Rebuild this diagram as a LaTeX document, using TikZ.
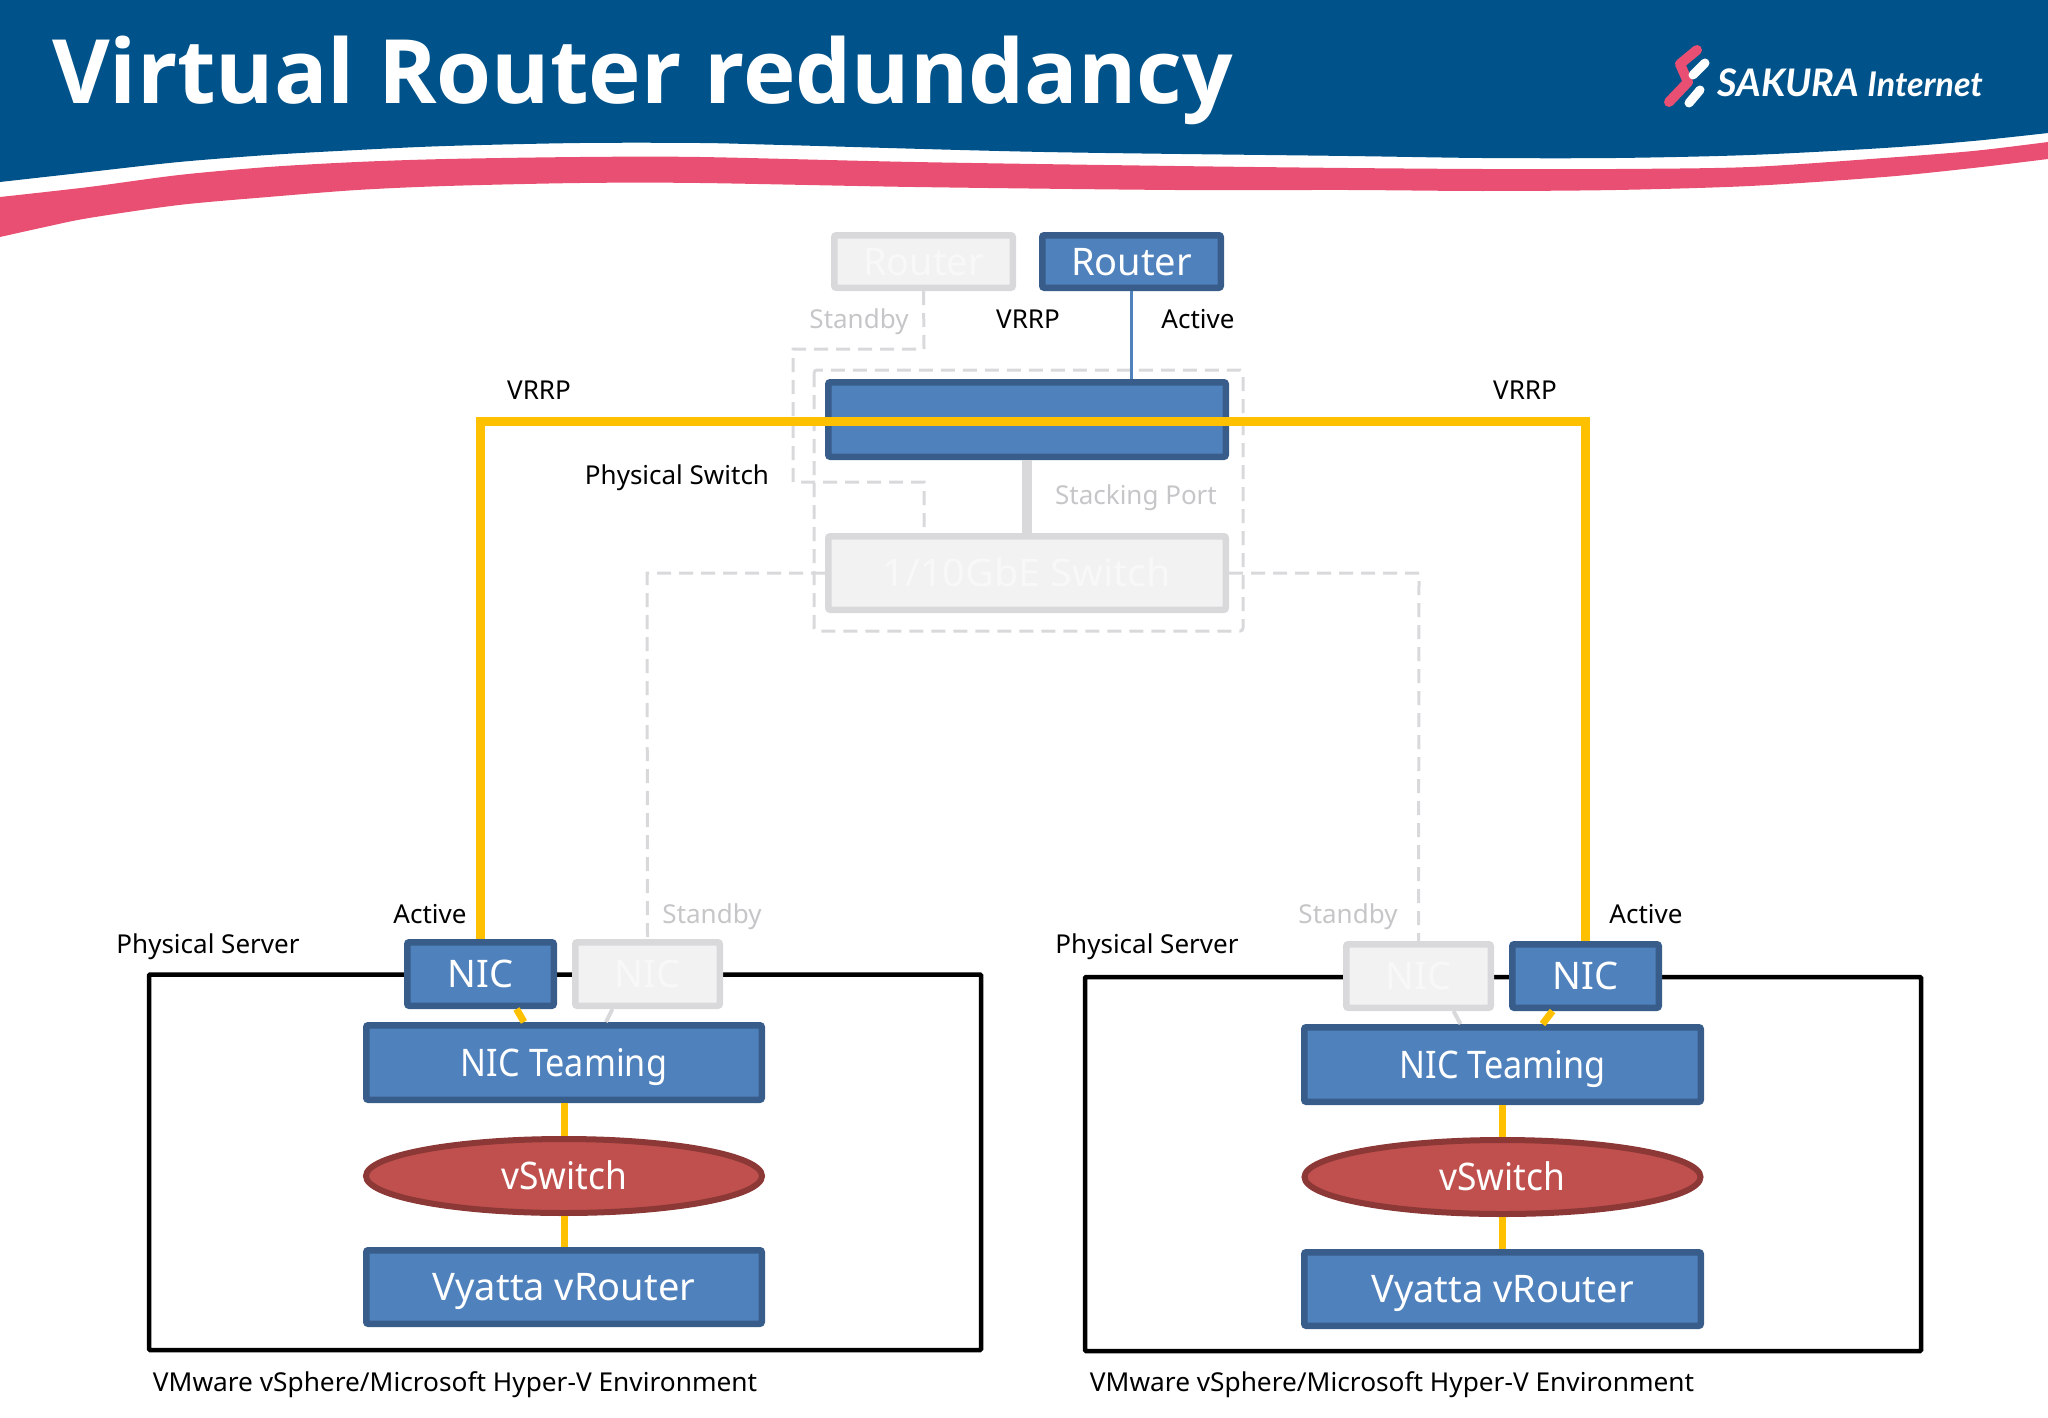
\documentclass[tikz,border=0pt]{standalone}
\usepackage{fontspec}
\usepackage{graphicx}
\usetikzlibrary{shapes.geometric}
\setmainfont{Noto Sans}
\newfontfamily\titlefont{Open Sans}[BoldFont={Open Sans Bold}]
\newfontfamily\logofont{Lato}[BoldItalicFont={Lato Bold Italic}]
\definecolor{bannerblue}{HTML}{00538A}
\definecolor{bannerpink}{HTML}{E94F72}
\definecolor{boxblue}{HTML}{4F81BD}
\definecolor{boxblueline}{HTML}{385D8A}
\definecolor{boxred}{HTML}{C0504D}
\definecolor{boxredline}{HTML}{8C3836}
\definecolor{linkyellow}{HTML}{FFC000}
\definecolor{ghostfill}{HTML}{F2F2F3}
\definecolor{ghostline}{HTML}{D9D9DB}
\definecolor{ghosttext}{HTML}{C6C6C8}
\definecolor{ghostword}{HTML}{F8F8F9}
\tikzset{
  x=1pt,y=-1pt,
  blk/.style n args={2}{rectangle,rounded corners=2pt,inner sep=0pt,line width=6.5pt,
     minimum width=#1-6.5pt,minimum height=#2-6.5pt,text height=27pt,text depth=0pt},
  act/.style n args={2}{blk={#1}{#2},fill=boxblue,draw=boxblueline,text=white},
  ghost/.style n args={2}{blk={#1}{#2},fill=ghostfill,draw=ghostline,text=ghostword},
  vsw/.style={ellipse,inner sep=0pt,line width=6pt,fill=boxred,draw=boxredline,text=white,
     minimum width=396pt,minimum height=74pt,text height=27pt,text depth=0pt},
  big/.style={font=\fontsize{38}{40}\selectfont},
  lab/.style={font=\fontsize{26}{28}\selectfont,inner sep=0pt,text=black,text height=19pt,text depth=0pt},
  glab/.style={lab,text=ghosttext},
  server/.style={draw=black,line width=4.5pt,rounded corners=1pt},
  yel/.style={draw=linkyellow,line width=9pt},
  yelt/.style={draw=linkyellow,line width=7pt},
  glink/.style={draw=ghostline,line width=4pt},
  gdash/.style={draw=ghostline,line width=3pt,dash pattern=on 14pt off 8pt},
}
\begin{document}
\begin{tikzpicture}
\useasboundingbox (0,0) rectangle (2048,1418);
% banner
\fill[bannerblue] plot[smooth] coordinates {(0,182)(89,172)(179,162)(268,155)(357,150)(446,146)(580,143)(700,143)(783,145)(1044,152)(1348,156)(1482,158)(1616,158)(1750,155)(1884,148)(1973,141)(2048,133)} -- (2048,0) -- (0,0) -- cycle;
\fill[bannerpink] plot[smooth] coordinates {(0,197)(89,187)(179,175)(268,167)(357,162)(446,159)(580,157)(700,157)(914,162)(1175,166)(1348,168)(1482,169)(1616,169)(1750,167)(1884,158)(1973,151)(2048,142)} -- plot[smooth] coordinates {(2048,159)(1973,168)(1884,177)(1750,186)(1616,190)(1482,191)(1348,190)(1175,190)(914,187)(700,183)(580,183)(446,186)(357,190)(268,197)(179,205)(89,218)(45,227)(0,237)} -- cycle;
\node[text=white,anchor=base west,inner sep=0pt] (title) at (52,104) {\resizebox{1181pt}{!}{\titlefont\bfseries\fontsize{87}{90}\selectfont Virtual Router redundancy}};
% logo
\draw[bannerpink,line width=10pt,line cap=round,line join=round] (1697,50) -- (1680,64) -- (1688,82) -- (1669,102);
\draw[white,line width=9pt,line cap=round] (1705,63) -- (1693,75);
\draw[white,line width=9pt,line cap=round] (1700,90) -- (1689,103);
\node[font=\logofont\bfseries\itshape\fontsize{38}{40}\selectfont,text=white,anchor=west,inner sep=0pt] (logo) at (1717,83) {SAKURA {\fontsize{34}{36}\selectfont Internet}};
% server frames
\draw[server] (149,974.5) rectangle (981,1350);
\draw[server] (1085,977) rectangle (1921,1351);
% switch group frame
\draw[gdash,rounded corners=3pt] (814,370) rectangle (1243,631);
% top nodes
\node[ghost={185}{59},big] (routerS) at (923.5,261.5) {Router};
\node[act={185}{59},big] (routerA) at (1131.5,261.5) {Router};
\node[act={404}{81},big] (swA) at (1027,419.5) {};
\node[ghost={404}{80},big] (swS) at (1027,573) {\scalebox{1.04}[1]{1/10GbE Switch}};
% left server
\node[act={153}{70},big] (nicLA) at (480.5,974) {NIC};
\node[ghost={151}{70},big] (nicLS) at (647.5,974) {NIC};
\node[act={402}{81},big] (teamL) at (564,1062.5) {\scalebox{0.9}[1]{NIC Teaming}};
\node[vsw,big] (vswL) at (564,1176) {\scalebox{0.93}[1]{vSwitch}};
\node[act={402}{80},big] (vyL) at (564,1287) {Vyatta vRouter};
% right server
\node[ghost={151}{70},big] (nicRS) at (1418.5,976) {NIC};
\node[act={153}{70},big] (nicRA) at (1585.5,976) {NIC};
\node[act={403}{81},big] (teamR) at (1502.5,1064.5) {\scalebox{0.9}[1]{NIC Teaming}};
\node[vsw,big] (vswR) at (1502.5,1177) {\scalebox{0.93}[1]{vSwitch}};
\node[act={403}{80},big] (vyR) at (1502.5,1289) {Vyatta vRouter};
% labels
\node[glab] (tStandbyTop) at (859,319) {Standby};
\node[lab] (tVrrpTop) at (1028,319) {VRRP};
\node[lab] (tActiveTop) at (1198,319) {Active};
\node[lab] (tVrrpL) at (539,390) {VRRP};
\node[lab] (tVrrpR) at (1525,390) {VRRP};
\node[lab] (tPSw) at (677,475) {Physical Switch};
\node[glab] (tStack) at (1136,495) {Stacking Port};
\node[lab] (tActL) at (430,914) {Active};
\node[glab] (tStbL) at (712,914) {Standby};
\node[lab] (tSrvL) at (208,944) {Physical Server};
\node[lab] (tEnvL) at (455,1382) {\scalebox{1.01}[1]{VMware vSphere/Microsoft Hyper-V Environment}};
\node[glab] (tStbR) at (1348,914) {Standby};
\node[lab] (tActR) at (1646,914) {Active};
\node[lab] (tSrvR) at (1147,944) {Physical Server};
\node[lab] (tEnvR) at (1392,1382) {\scalebox{1.01}[1]{VMware vSphere/Microsoft Hyper-V Environment}};
% free corners
\coordinate (bus) at (1000,421);
\coordinate (sbA) at (924,349);
\coordinate (sbB) at (793,349);
\coordinate (sbC) at (793,482);
\coordinate (sbD) at (924,482);
\coordinate (gl) at (647,573);
\coordinate (gr) at (1419,573);
% connectors
\draw[boxblue,line width=3.5pt] (routerA.south) -- (swA.north -| routerA.south);
\draw[ghostline,line width=10pt] (swA.south) -- (swS.north);
\draw[gdash] (routerS.south) -- (sbA) -- (sbB) -- (sbC) -- (sbD) -- (swS.north -| sbD);
\draw[gdash] (swS.west) -- (gl) -- (nicLS.north);
\draw[gdash] (swS.east) -- (gr) -- (nicRS.north);
\draw[yel] (nicLA.north) |- (bus) -| (nicRA.north);
\draw[yelt] ([xshift=36pt]nicLA.south) -- ([xshift=-40pt]teamL.north);
\draw[glink] ([xshift=-35pt]nicLS.south) -- ([xshift=42pt]teamL.north);
\draw[yelt] (teamL.south) -- (vswL.north);
\draw[yelt] (vswL.south) -- (vyL.north);
\draw[yelt] ([xshift=-33pt]nicRA.south) -- ([xshift=40pt]teamR.north);
\draw[glink] ([xshift=35pt]nicRS.south) -- ([xshift=-42pt]teamR.north);
\draw[yelt] (teamR.south) -- (vswR.north);
\draw[yelt] (vswR.south) -- (vyR.north);
\end{tikzpicture}
\end{document}
